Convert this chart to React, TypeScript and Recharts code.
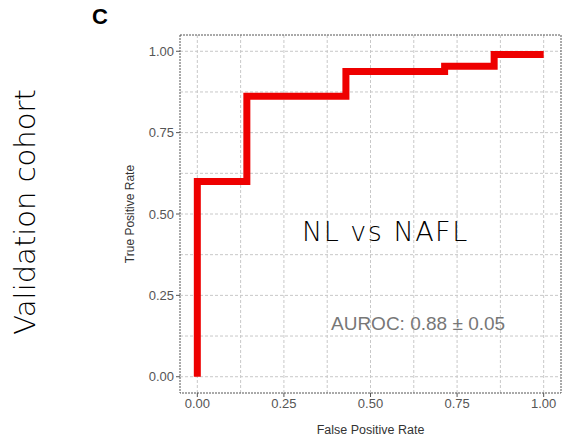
import React from "react";
import { LineChart, Line, XAxis, YAxis, CartesianGrid, ReferenceArea } from "recharts";

// ROC curve points
const fpr = [0, 0, 0.143, 0.143, 0.429, 0.429, 0.714, 0.714, 0.857, 0.857, 1.0];
const tpr = [0, 0.6, 0.6, 0.862, 0.862, 0.938, 0.938, 0.954, 0.954, 0.99, 0.99];
const axisTicks = [0, 0.25, 0.5, 0.75, 1];
const gridValues = [0, 0.125, 0.25, 0.375, 0.5, 0.625, 0.75, 0.875, 1];

const rocData = fpr.map((x, i) => ({ fpr: x, tpr: tpr[i] }));

const fmt = (v: number) => v.toFixed(2);
const font = "'Liberation Sans', Arial, sans-serif";

const App = () => {
	return (
		<div style={{ position: "absolute", left: 0, top: 0, width: 570, height: 437, background: "#fff" }}>
			<div style={{ position: "absolute", left: 92, top: 4, fontFamily: font, fontWeight: "bold", fontSize: 22 }}>C</div>
			<div
				style={{
					position: "absolute",
					left: 25,
					top: 212,
					transform: "translate(-50%, -50%) rotate(-90deg)",
					whiteSpace: "nowrap",
					fontFamily: "'DejaVu Sans', sans-serif",
					fontWeight: 200,
					fontSize: 29,
					color: "#000",
				}}
			>
				Validation cohort
			</div>
			<LineChart width={570} height={437} data={rocData} margin={{ top: 35, right: 9, bottom: 0, left: 122 }}>
				<CartesianGrid stroke="#c8c8c8" strokeDasharray="3 2" horizontalValues={gridValues} verticalValues={gridValues} />
				<ReferenceArea x1={-0.05} x2={1.05} y1={-0.05} y2={1.05} fill="none" stroke="#555" strokeDasharray="2 1" ifOverflow="visible" />
				<XAxis
					dataKey="fpr"
					type="number"
					domain={[-0.05, 1.05]}
					ticks={axisTicks}
					tickFormatter={fmt}
					tick={{ fill: "#555", fontSize: 13, fontFamily: font }}
					tickSize={4}
					axisLine={false}
					stroke="#555"
					height={44}
					label={{ value: "False Positive Rate", position: "insideBottom", offset: 3, fill: "#333", fontSize: 12.5, fontFamily: font }}
				/>
				<YAxis
					dataKey="tpr"
					type="number"
					domain={[-0.05, 1.05]}
					ticks={axisTicks}
					tickFormatter={fmt}
					tick={{ fill: "#555", fontSize: 13, fontFamily: font }}
					tickSize={4}
					axisLine={false}
					stroke="#555"
					width={58}
					label={{ value: "True Positive Rate", angle: -90, position: "insideLeft", offset: 8, fill: "#333", fontSize: 12, fontFamily: font, textAnchor: "middle" }}
				/>
				<Line type="linear" dataKey="tpr" stroke="#ee0000" strokeWidth={7} dot={false} isAnimationActive={false} />
			</LineChart>
			<div style={{ position: "absolute", left: 302, top: 216, fontFamily: "'DejaVu Sans', sans-serif", fontWeight: 200, fontSize: 27, letterSpacing: 1.5, color: "#000", whiteSpace: "nowrap" }}>
				NL vs NAFL
			</div>
			<div style={{ position: "absolute", left: 331, top: 313, fontFamily: font, fontSize: 19, color: "#777", whiteSpace: "nowrap" }}>
				AUROC: 0.88 ± 0.05
			</div>
		</div>
	);
};
export default App;
